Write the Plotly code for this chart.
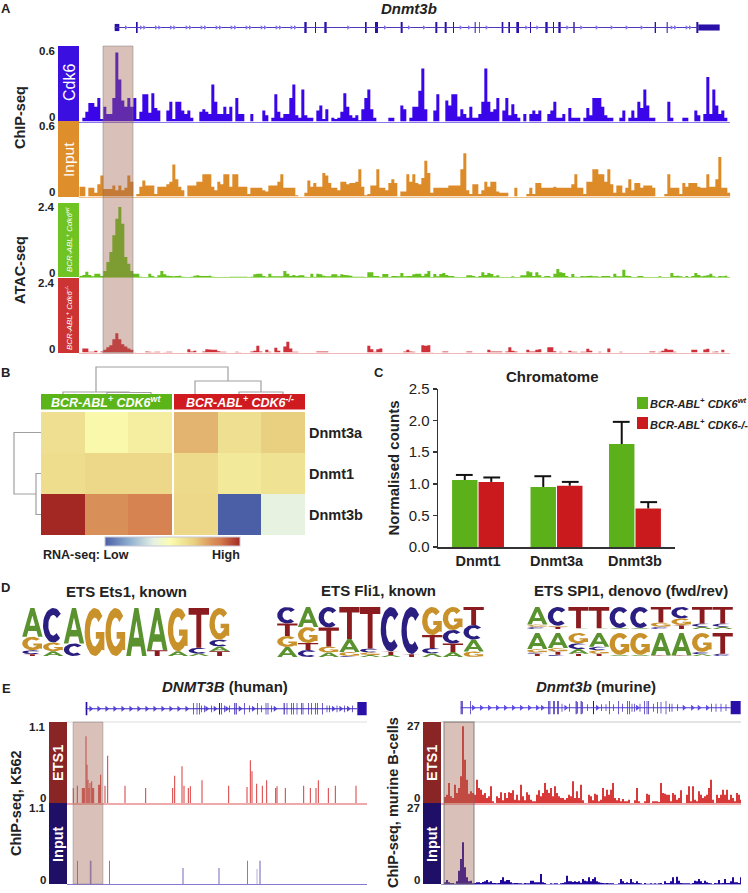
import math
import numpy as np
import plotly.graph_objects as go

W, H = 748, 893
FONT = "Liberation Sans"
INK = "#222222"

# ---------- Panel A: track signals (consecutive genome bins) ----------
cdk6_signal = [3,8,15,15,12,19,2,12,6,6,19,56,34,17,12,19,12,19,2,8,22,22,7,23,11,9,0,0,9,16,2,16,16,9,6,9,3,0,0,8,10,8,6,30,16,6,6,12,6,12,0,19,6,6,0,0,6,0,0,0,9,5,0,3,22,8,3,6,6,19,30,5,3,26,5,3,3,0,9,13,2,10,0,3,2,3,8,23,12,5,3,5,1,10,19,26,10,3,
0,0,0,0,3,3,0,0,13,10,0,3,12,12,25,43,10,0,0,9,22,0,0,17,13,22,22,4,10,6,3,12,3,3,6,16,43,16,8,10,19,0,9,19,5,14,6,3,0,6,0,6,9,6,9,0,0,6,9,16,3,3,6,0,11,3,3,3,0,3,11,5,19,19,19,12,5,3,3,0,0,3,9,0,3,9,3,16,11,26,13,3,3,0,0,0,0,16,3,0,0,0,3,3,0,0,9,5,0,6,36,6,26,13,6,9,3]
input_signal = [8,8,0,7,7,3,10,17,6,6,6,9,5,9,5,7,17,12,0,2,8,13,9,9,9,2,8,8,8,10,12,26,14,8,5,0,9,9,9,12,12,18,18,18,8,5,12,10,18,18,8,18,18,8,8,8,2,7,7,7,7,5,4,9,9,9,12,18,7,7,7,7,1,0,0,3,13,8,11,8,8,19,17,11,7,7,5,12,12,10,11,11,12,22,8,1,2,9,9,
22,7,7,5,11,14,11,0,4,4,18,12,18,11,10,15,29,19,3,7,7,7,7,7,9,9,9,9,22,35,5,2,10,10,2,5,12,8,12,12,4,3,3,3,0,0,7,0,0,0,2,7,2,11,11,7,7,7,7,8,7,7,7,7,7,10,18,7,7,2,12,12,22,22,18,18,12,22,10,3,9,9,3,7,14,5,11,11,7,9,9,9,7,0,0,0,2,18,7,7,7,2,11,8,11,11,11,8,7,7,18,8,8,14,32,7,7,3]
atac_wt_signal = [3,6,16,6,2,10,10,3,18,45,75,125,175,210,160,60,40,18,10,10,1,0,0,10,3,0,5,18,8,4,3,2,3,4,1,0,0,1,4,5,3,3,3,4,1,0,0,0,0,0,1,1,1,1,1,1,0,1,8,10,10,3,1,10,2,2,2,2,18,10,3,6,3,5,5,1,0,10,1,10,8,4,2,2,8,8,2,8,6,5,4,1,1,1,1,0,14,14,3,
3,0,9,9,0,3,3,2,12,2,3,3,8,10,10,3,10,18,0,9,2,9,12,6,3,3,0,0,0,0,5,5,3,0,3,14,6,12,9,2,5,0,0,0,0,2,0,0,5,5,17,14,3,14,5,0,3,3,0,10,24,14,12,3,0,9,1,0,3,2,3,4,2,2,1,3,3,3,0,10,2,2,22,4,3,0,0,3,3,0,0,0,0,0,2,0,0,0,12,3,4,2,0,3,0,3,12,6,2,4,5,10,2,0,3,2,4]
atac_ko_signal = [0,12,12,2,2,5,0,3,8,16,22,40,58,40,25,18,12,8,1,0,0,0,3,2,1,2,2,0,1,2,2,0,0,0,0,0,10,3,5,0,0,3,10,9,8,8,4,2,2,0,0,0,2,1,0,0,0,3,5,20,3,0,8,2,0,14,5,0,18,32,12,2,2,0,0,0,0,0,0,3,3,3,3,0,0,0,0,0,0,0,0,0,0,0,0,0,20,10,2,
10,12,0,0,0,0,0,0,0,3,8,3,2,0,0,22,20,22,1,0,0,0,3,3,0,0,0,0,0,0,3,3,0,0,0,0,0,8,3,3,3,3,0,3,16,5,3,0,0,0,8,3,3,8,10,0,1,16,16,4,0,2,0,0,5,2,2,0,2,2,11,5,0,0,2,0,0,12,0,0,0,2,0,0,0,0,0,0,0,0,0,3,3,0,2,5,11,8,8,2,0,0,0,0,0,8,8,0,0,9,11,0,2,3,0,8]

# Gene model Dnmt3b (mouse, panel A)
a_exon_start = [344,408,913,945,973,1095,1125,1202,1306,1334,1359,1424,1437,1505,1525,1549,1590,1636,1659,1675,1720,1964,2000,2089,2095]
a_exon_end   = [358,413,920,948,980,1100,1134,1208,1312,1340,1362,1427,1439,1510,1530,1557,1593,1643,1662,1682,1724,1968,2003,2095,2159]
a_exon_half  = [.65,1,1,1,1,1,1,1,1,1,1,1,1,1,1,1,1,1,1,1,1,1,1,1,.55]
a_arrows = [378,423,433,468,478,513,523,560,570,605,615,650,660,695,705,740,750,785,795,830,840,875,885,1045,1155,1227,1272,1382,1407,1460,1579,1612,1702,1744,1790,1835,1880,1925,2015,2025,2060,2070]

# ---------- Panel B ----------
hm_rows = ["Dnmt3a", "Dnmt1", "Dnmt3b"]
hm_cols_wt = ["wt1", "wt2", "wt3"]
hm_cols_ko = ["ko1", "ko2", "ko3"]
hm_wt = [[.60,.50,.54],[.61,.63,.63],[1.0,.80,.84]]
hm_ko = [[.72,.60,.66],[.62,.56,.59],[.63,0.0,.37]]
hm_scale = [[0,"#4a5fa5"],[.18,"#8fafd0"],[.36,"#e6f1e4"],[.48,"#fbfdb0"],[.66,"#e9d080"],[.8,"#d98f58"],[.85,"#d67f4f"],[1,"#a32824"]]

# merges: left position, right position, left height, right height, top height
dendro_top = [(1.5,2.5,0,0,1.5),(.5,2.0,0,1.5,2),(4.5,5.5,0,0,2),(3.5,5.0,0,2,13),(1.25,4.25,2,13,27)]
dendro_left = [(1.5,2.5,0,0,5),(.5,2.0,0,5,27)]

# ---------- Panel C ----------
chrom_genes = ["Dnmt1", "Dnmt3a", "Dnmt3b"]
chrom_wt = [1.06, .95, 1.63]
chrom_ko = [1.03, .97, .61]
chrom_wt_err = [.08, .17, .35]
chrom_ko_err = [.07, .06, .10]

# ---------- Panel D: logos, each position stacked bottom to top ----------
logo_ets1 = [
 [("T",.04),("C",.08),("G",.28),("A",.60)], [("A",.10),("G",.18),("C",.72)], [("C",.26),("A",.74)],
 [("G",1.0)], [("G",1.0)], [("A",1.0)], [("T",.12),("A",.88)], [("A",.10),("G",.90)],
 [("A",.05),("C",.12),("T",.83)], [("T",.10),("A",.10),("C",.14),("G",.66)]]
logo_fli1 = [
 [("A",.2),("G",.22),("T",.25),("C",.33)], [("C",.14),("T",.14),("G",.32),("A",.40)], [("A",.09),("G",.12),("T",.38),("C",.41)],
 [("C",.02),("G",.08),("A",.26),("T",.64)], [("A",.04),("G",.05),("C",.08),("T",.83)], [("A",.04),("T",.07),("C",.89)],
 [("T",.06),("C",.94)], [("A",.07),("C",.11),("T",.26),("G",.56)], [("A",.10),("T",.17),("C",.27),("G",.46)], [("G",.11),("A",.24),("C",.29),("T",.36)]]
logo_spi1_fwd = [
 [("C",.1),("G",.1),("A",.8)], [("T",.1),("G",.05),("C",.85)], [("A",.03),("T",.97)], [("A",.03),("T",.97)],
 [("A",.05),("C",.95)], [("A",.05),("C",.95)], [("C",.1),("G",.2),("T",.7)], [("T",.18),("G",.3),("C",.52)],
 [("A",.1),("C",.15),("T",.75)], [("A",.1),("C",.15),("T",.75)]]
logo_spi1_rev = [
 [("T",.1),("C",.05),("G",.15),("A",.7)], [("C",.05),("T",.15),("G",.15),("A",.65)], [("T",.1),("A",.2),("C",.25),("G",.45)],
 [("T",.1),("G",.15),("C",.15),("A",.6)], [("A",.05),("G",.95)], [("A",.05),("G",.95)], [("T",.02),("A",.98)], [("T",.02),("A",.98)],
 [("A",.08),("C",.1),("G",.82)], [("C",.1),("T",.9)]]
logo_colors = {"A":"#5a9230","C":"#2a1f80","G":"#c8912a","T":"#8a1c20"}

# ---------- Panel E ----------
human_ets1_pos = [220,232,247,250,253,258,261,264,267,270,275,278,281,296,299,302,315,323,375,437,518,524,546,552,565,571,606,686,741,751,756,770,787,800,827,831,856,911,931,948,955,985,1006,1068]
human_ets1_val = [45,52,45,45,45,200,115,70,45,60,65,45,45,55,55,85,52,142,52,45,45,82,110,52,45,50,68,52,48,128,95,58,52,68,45,50,45,52,45,45,68,45,52,52]
human_input_pos = [232,272,328,549,657,742,771,780]
human_input_val = [70,70,70,48,48,70,45,70]
human_input_wid = [2,5,2,5,5,2,3,4]
human_input_alpha = [1,.6,1,.45,.45,1,.4,.6]
human_exon_start = [257,580,590,597,603,612,633,657,663,672,688,703,708,733,748,772,783,797,803,813,851,860,873,880,890,903,908,925,933,945,952,967,980,987,1010,1033,1057,1072]
human_exon_end   = [262,582,592,599,605,614,635,660,665,674,690,706,710,735,750,774,785,799,805,815,854,862,875,882,892,905,910,927,935,947,954,969,982,989,1012,1035,1059,1100]
human_exon_half  = [1,.85,.85,.85,.5,.5,.5,.85,.85,.5,.5,.85,.85,.85,.5,.85,.5,.85,.85,.5,.85,.85,.85,.85,.85,.85,.85,.85,.85,.85,.85,.85,.5,.5,.5,.5,.5,1]
human_arrows = [272,296,320,344,368,392,416,440,464,488,512,536,560,620,645,680,720,760,825,1000,1022,1045]

murine_ets1_signal = [18,25,60,20,15,55,30,45,80,230,130,70,28,35,30,25,70,45,40,25,30,15,20,50,5,0,20,15,32,8,30,15,32,30,38,10,25,8,55,20,8,32,25,10,5,5,25,38,20,30,60,40,30,45,20,50,30,20,15,15,10,15,25,20,65,15,35,15,55,8,0,0,25,20,8,28,25,5,10,45,20,40,25,40,60,15,8,15,5,12,5,5,10,0,0,8,45,5,0,0,5,28,25,0,5,5,5,3,60,30,28,25,25,5,30,25,10,15,38,0,0,25,50,5,50,10,5,35,25,15,20,25,45,70,10,0,25,15,25,40,25,40,10,25,15,5,30,25,10]
murine_input_signal = [5,12,5,3,3,0,8,40,75,125,50,20,8,10,2,3,5,5,3,6,8,12,5,8,3,3,2,3,12,20,8,12,12,5,2,3,3,2,2,1,3,2,2,10,10,5,5,5,30,5,3,0,0,2,1,2,2,0,2,3,5,25,8,8,6,8,6,8,4,15,10,8,20,8,15,20,8,5,4,3,2,3,2,2,2,0,0,2,15,8,3,5,3,15,5,3,8,3,2,0,3,1,1,2,1,2,1,2,3,0,8,3,3,8,20,2,22,10,3,2,2,2,2,1,3,10,8,15,8,3,10,5,3,2,0,3,2,12,2,3,15,3,3,8,20,5,5,3,20]
murine_exon_start = [260,265,288,523,527,537,541,550,553,563,585,605,610,620,625,640,657,682,695,706,718,733,745,760,765,773,780,797,810,818,823,838,850,860,875,885,893,910,1012,1025,1040,1055,1070]
murine_exon_end   = [263,267,290,526,529,539,543,552,555,565,587,608,612,623,627,642,660,684,697,708,720,735,747,762,767,775,782,799,812,820,825,840,852,862,877,887,895,912,1014,1027,1042,1057,1100]
murine_exon_half  = [1,1,1,1,1,1,1,1,1,.6,.6,1,.85,1,.85,.5,1,.5,.5,1,.5,1,.6,1,1,.6,.6,.6,1,1,1,.6,.85,.85,1,.6,.6,.5,.6,.6,.6,.5,1]
murine_arrows = [298,322,346,370,394,418,442,466,490,505,575,670,790,930,955,975,1000]

# ---------- assembly ----------
fig = go.Figure()
layout_axes = {}
shapes, notes = [], []
n_ax = 0

def panel(x0, y0, x1, y1, xr, yr, xextra=None, yextra=None):
    """Create an axis pair whose plot area sits at the given pixel box."""
    global n_ax
    n_ax += 1
    sfx = "" if n_ax == 1 else str(n_ax)
    xa = dict(domain=[x0/W, x1/W], range=xr, anchor=f"y{sfx}", showgrid=False, zeroline=False,
              showticklabels=False, ticks="", fixedrange=True, showline=False)
    ya = dict(domain=[1-y1/H, 1-y0/H], range=yr, anchor=f"x{sfx}", showgrid=False, zeroline=False,
              showticklabels=False, ticks="", fixedrange=True, showline=False)
    xa.update(xextra or {}); ya.update(yextra or {})
    layout_axes[f"xaxis{sfx}"] = xa
    layout_axes[f"yaxis{sfx}"] = ya
    return f"x{sfx}", f"y{sfx}"

def box(x0, y0, x1, y1, color, line=None, above=False, lw=0):
    shapes.append(dict(type="rect", xref="paper", yref="paper", x0=x0/W, x1=x1/W, y0=1-y0/H, y1=1-y1/H,
                       fillcolor=color, line=dict(color=line or color, width=lw), layer="above" if above else "below"))

def rule(x0, y0, x1, y1, color, width):
    shapes.append(dict(type="line", xref="paper", yref="paper", x0=x0/W, x1=x1/W, y0=1-y0/H, y1=1-y1/H,
                       line=dict(color=color, width=width), layer="below"))

def note(x, y, text, size=12, color=INK, xanchor="center", angle=0):
    notes.append(dict(xref="paper", yref="paper", x=x/W, y=1-y/H, text=text, showarrow=False, xanchor=xanchor,
                      yanchor="middle", textangle=angle, font=dict(family=FONT, size=size, color=color),
                      borderpad=0, borderwidth=0))

def track(x0, x1, base, height, signal, scale, ymax, color, basecolor, start, nbins, basew=1):
    xa, ya = panel(x0, base-height, x1, base, [0, nbins], [0, ymax],
                   xextra=dict(showline=True, linecolor=basecolor, linewidth=basew))
    vals = [v*scale for v in signal]
    xs = [start+i for i in range(len(vals))]
    xs = xs+[xs[-1]+1]; vals = vals+[vals[-1]]
    fig.add_trace(go.Scatter(x=xs, y=vals, mode="lines", fill="tozeroy", fillcolor=color, xaxis=xa, yaxis=ya,
                             line=dict(color=color, width=0, shape="hv"), showlegend=False, hoverinfo="skip"))

def gene(x0, x1, y0, y1, gmax, starts, ends, halves, arrows, line_end, line_col, exon_col, arrow_col, asize=4):
    xa, ya = panel(x0, y0, x1, y1, [0, gmax], [-1, 1])
    fig.add_trace(go.Scatter(x=[starts[0], line_end], y=[0, 0], mode="lines", line=dict(color=line_col, width=1.2),
                             xaxis=xa, yaxis=ya, showlegend=False, hoverinfo="skip"))
    fig.add_trace(go.Scatter(x=arrows, y=[0]*len(arrows), mode="markers", marker=dict(symbol="triangle-right", size=asize, color=arrow_col),
                             xaxis=xa, yaxis=ya, showlegend=False, hoverinfo="skip"))
    fig.add_trace(go.Bar(x=[(a+b)/2 for a, b in zip(starts, ends)], y=[2*h for h in halves], base=[-h for h in halves],
                         width=[b-a for a, b in zip(starts, ends)], marker=dict(color=exon_col, line=dict(width=0)),
                         xaxis=xa, yaxis=ya, showlegend=False, hoverinfo="skip"))

def glyph(letter):
    """Unit-box outlines of the logo letters."""
    if letter == "A":
        return [[(0,0),(.22,0),(.6,1),(.4,1)], [(.78,0),(1,0),(.6,1),(.4,1)], [(.2,.2),(.8,.2),(.74,.38),(.26,.38)]]
    if letter == "T":
        return [[(.38,0),(.62,0),(.62,.83),(1,.83),(1,1),(0,1),(0,.83),(.38,.83)]]
    rx, ry = .24, .30
    def ell(a, r1, r2):
        t = math.radians(a)
        return (.5+r1*math.cos(t), .5+r2*math.sin(t))
    if letter == "C":
        ang = list(range(42, 320, 10))
        outer = [ell(a, .5, .5) for a in ang]
        inner = [ell(a, rx, ry) for a in reversed(ang)]
        return [outer+inner]
    ang = list(range(42, 316, 10))
    outer = [ell(a, .5, .5) for a in ang]
    inner = [ell(a, rx, ry) for a in reversed(ang)]
    return [outer+[(.97,.12),(.97,.5),(.55,.5),(.55,.36),(.74,.36)]+inner]

def logo(x0, y0, x1, y1, matrix):
    xa, ya = panel(x0, y0, x1, y1, [0, len(matrix)], [0, 1])
    polys = {k: ([], []) for k in logo_colors}
    for i, stack in enumerate(matrix):
        b = 0
        for letter, h in stack:
            for poly in glyph(letter):
                for px, py in poly+[poly[0]]:
                    polys[letter][0].append(i+.01+.98*px)
                    polys[letter][1].append(b+h*py)
                polys[letter][0].append(None); polys[letter][1].append(None)
            b += h
    for k, (xs, ys) in polys.items():
        fig.add_trace(go.Scatter(x=xs, y=ys, mode="lines", fill="toself", fillcolor=logo_colors[k], xaxis=xa, yaxis=ya,
                                 line=dict(width=0, color=logo_colors[k]), showlegend=False, hoverinfo="skip"))

def dendro(xa, ya, merges, horizontal=False):
    xs, ys = [], []
    for l, r, hl, hr, t in merges:
        a, b = [l, l, r, r, None], [hl, t, t, hr, None]
        xs += a; ys += b
    if horizontal:
        xs, ys = ys, xs
    fig.add_trace(go.Scatter(x=xs, y=ys, mode="lines", line=dict(color="#a0a0a0", width=1.2), xaxis=xa, yaxis=ya,
                             showlegend=False, hoverinfo="skip"))

# Panel A
note(6, 8, "<b>A</b>", 13)
note(409, 9, "<b><i>Dnmt3b</i></b>", 15)
gene(0, W, 22, 33, 2244, a_exon_start, a_exon_end, a_exon_half, a_arrows, 2095, "#4a38b8", "#2a0fa8", "#7d6fe6")
box(58, 46, 79, 121, "#3a0fe0")
box(58, 121, 79, 197, "#de8e2a")
box(58, 203, 79, 277, "#6fc323")
box(58, 278, 79, 353, "#cc3333")
AX0 = 79.33
track(AX0, AX0+3*217, 121.5, 74, cdk6_signal, .01, .6, "#3a05e8", "#8a78ea", 1, 217)
track(AX0, AX0+3*217, 196.5, 74, input_signal, .01, .6, "#dd8b28", "#edc08a", 0, 217)
track(AX0, AX0+3*217, 277, 74, atac_wt_signal, 2.4/222, 2.4, "#66c11e", "#a8de78", 0, 217)
track(AX0, AX0+3*217, 352.5, 74, atac_ko_signal, 2.4/222, 2.4, "#d0303a", "#f2b8b8", 0, 217)
box(103, 46, 133, 353, "rgba(160,100,80,0.40)", "rgba(110,110,110,0.45)", above=True, lw=1)
note(69, 83, "Cdk6", 16, "white", angle=-90)
note(69, 160, "Input", 15.5, "white", angle=-90)
note(69, 240, "<i>BCR-ABL<sup>+</sup> Cdk6<sup>wt</sup></i>", 8, "white", angle=-90)
note(69, 318, "<i>BCR-ABL<sup>+</sup> Cdk6<sup>-/-</sup></i>", 8, "white", angle=-90)
for y, t in [(51,"0.6"),(117,"0"),(126,"0.6"),(192,"0"),(207,"2.4"),(273,"0"),(283,"2.4"),(349,"0")]:
    note(55, y, f"<b>{t}</b>", 11.5, xanchor="right")
note(20, 118, "<b>ChIP-seq</b>", 14.5, angle=-90)
note(20, 270, "<b>ATAC-seq</b>", 14.5, angle=-90)

# Panel B
note(5, 373, "<b>B</b>", 13)
box(41, 394, 172, 409.5, "#5cb518")
box(174, 394, 305, 409.5, "#cf1a20")
note(106.5, 402, "<b><i>BCR-ABL<sup>+</sup> CDK6<sup>wt</sup></i></b>", 12.5, "white")
note(239.5, 402, "<b><i>BCR-ABL<sup>+</sup> CDK6<sup>-/-</sup></i></b>", 12.5, "white")
xa, ya = panel(41, 412, 172, 535, [-.5, 2.5], [2.5, -.5], yextra=dict(type="category", categoryorder="array", categoryarray=hm_rows))
fig.add_trace(go.Heatmap(z=hm_wt, x=hm_cols_wt, y=hm_rows, coloraxis="coloraxis", xaxis=xa, yaxis=ya, hoverinfo="skip"))
layout_axes[xa.replace("x", "xaxis")]["type"] = "category"
xa, ya = panel(174, 412, 305, 535, [-.5, 2.5], [2.5, -.5],
               yextra=dict(type="category", categoryorder="array", categoryarray=hm_rows, side="right", showticklabels=True,
                           tickmode="array", tickvals=hm_rows, ticktext=[f"<b>{r}</b>" for r in hm_rows], ticklen=0,
                           tickfont=dict(family=FONT, size=14.5, color=INK), ticklabelstandoff=3))
fig.add_trace(go.Heatmap(z=hm_ko, x=hm_cols_ko, y=hm_rows, coloraxis="coloraxis", xaxis=xa, yaxis=ya, hoverinfo="skip"))
layout_axes[xa.replace("x", "xaxis")]["type"] = "category"
xa, ya = panel(41, 365, 305, 394, [0, 6], [0, 29])
dendro(xa, ya, dendro_top)
xa, ya = panel(12, 412, 41, 535, [29, 0], [3, 0])
dendro(xa, ya, dendro_left, horizontal=True)
note(43, 555, "<b>RNA-seq: Low</b>", 12.5, xanchor="left")
note(240, 555, "<b>High</b>", 12.5, xanchor="right")

# Panel C
note(379, 373, "<b>C</b>", 13)
note(552, 376, "<b>Chromatome</b>", 15)
xa, ya = panel(438, 389, 675, 547, [-.51, 2.51], [0, 2.5],
               xextra=dict(showline=True, linecolor="#333333", linewidth=1.5, showticklabels=True, tickmode="array",
                           tickvals=[0, 1, 2], ticktext=[f"<b>{g}</b>" for g in chrom_genes], ticklen=0,
                           tickfont=dict(family=FONT, size=14.5, color=INK)),
               yextra=dict(showline=True, linecolor="#333333", linewidth=1.5, showticklabels=True, tick0=0, dtick=.5,
                           tickformat=".1f", ticks="outside", ticklen=4, tickwidth=1.5, tickcolor="#333333",
                           tickfont=dict(family=FONT, size=15, color=INK),
                           title=dict(text="<b>Normalised counts</b>", font=dict(family=FONT, size=15, color=INK), standoff=5)))
for vals, errs, col, grp in [(chrom_wt, chrom_wt_err, "#5cb11b", "wt"), (chrom_ko, chrom_ko_err, "#cb1a1d", "ko")]:
    fig.add_trace(go.Bar(x=[0, 1, 2], y=vals, marker=dict(color=col, line=dict(width=0)), offsetgroup=grp, name=grp,
                         error_y=dict(type="data", symmetric=False, array=errs, arrayminus=[0, 0, 0], width=0, thickness=2, color="#111111"),
                         xaxis=xa, yaxis=ya, showlegend=False, hoverinfo="skip"))
for vals, errs, off in [(chrom_wt, chrom_wt_err, -.175), (chrom_ko, chrom_ko_err, .175)]:
    fig.add_trace(go.Scatter(x=[i+off for i in range(3)], y=[v+e for v, e in zip(vals, errs)], mode="markers",
                             marker=dict(symbol="line-ew", size=12, line=dict(color="#111111", width=2)),
                             xaxis=xa, yaxis=ya, showlegend=False, hoverinfo="skip"))
box(637, 397, 648, 409, "#5cb11b")
box(637, 417, 648, 429, "#cb1a1d")
note(650, 403, "<b><i>BCR-ABL<sup>+</sup> CDK6<sup>wt</sup></i></b>", 11, xanchor="left")
note(650, 424, "<b><i>BCR-ABL<sup>+</sup> CDK6-/-</i></b>", 11, xanchor="left")

# Panel D
note(5, 587, "<b>D</b>", 13)
note(126, 591, "<b>ETS Ets1, known</b>", 15)
note(378, 590, "<b>ETS Fli1, known</b>", 15)
note(631, 590, "<b>ETS SPI1, denovo (fwd/rev)</b>", 15)
logo(22, 608, 230, 656, logo_ets1)
logo(277, 607, 484, 657, logo_fli1)
logo(527, 607, 733, 629, logo_spi1_fwd)
logo(527, 633, 733, 656, logo_spi1_rev)

# Panel E human
note(6, 688, "<b>E</b>", 13)
note(225, 686, "<b><i>DNMT3B</i> (human)</b>", 15)
gene(0, 374, 702, 715.5, 1122, human_exon_start, human_exon_end, human_exon_half, human_arrows, 1072, "#3a24c8", "#2a10a8", "#5040d0", 5)
rule(67, 722, 367, 722, "#dddddd", 1)
box(49, 722, 67, 803, "#8a2525")
box(49, 803, 67, 884, "#1f0f66")
note(58, 763, "<b>ETS1</b>", 14.5, "white", angle=-90)
note(58, 844, "<b>Input</b>", 14.5, "white", angle=-90)
xa, ya = panel(67, 722, 367, 803, [201, 1101], [0, 1.1], xextra=dict(showline=True, linecolor="#eeaaaa", linewidth=1.5))
fig.add_trace(go.Bar(x=human_ets1_pos, y=[v*1.1/243 for v in human_ets1_val], width=3, marker=dict(color="#d83a3a", line=dict(width=0)),
                     xaxis=xa, yaxis=ya, showlegend=False, hoverinfo="skip"))
xa, ya = panel(67, 803, 367, 884, [201, 1101], [0, 1.1], xextra=dict(showline=True, linecolor="#8a78d0", linewidth=1.2))
fig.add_trace(go.Bar(x=human_input_pos, y=[v*1.1/243 for v in human_input_val], width=human_input_wid,
                     marker=dict(color="#4a36a8", opacity=human_input_alpha, line=dict(width=0)),
                     xaxis=xa, yaxis=ya, showlegend=False, hoverinfo="skip"))
box(73, 722, 103, 884, "rgba(160,100,80,0.40)", "rgba(110,110,110,0.35)", above=True, lw=1)
for y, t in [(727,"1.1"),(798,"0"),(808,"1.1"),(880,"0")]:
    note(46, y, f"<b>{t}</b>", 11.5, xanchor="right")
note(16, 803, "<b>ChIP-seq, K562</b>", 14.5, angle=-90)

# Panel E murine
note(596, 686, "<b><i>Dnmt3b</i> (murine)</b>", 15)
gene(374, W, 701, 714.5, 1122, murine_exon_start, murine_exon_end, murine_exon_half, murine_arrows, 1070, "#4a34d8", "#2a10a8", "#5a4ae0", 5)
rule(441, 722, 741, 722, "#e4e4e4", 2)
box(423, 722, 441, 803, "#8a2525")
box(423, 803, 441, 884, "#1f0f66")
note(432, 763, "<b>ETS1</b>", 14.5, "white", angle=-90)
note(432, 844, "<b>Input</b>", 14.5, "white", angle=-90)
track(441, 741, 803, 81, murine_ets1_signal, 27/243, 27, "#d83a3a", "#eeaaaa", 1.5, 150, basew=1.5)
track(441, 741, 884, 81, murine_input_signal, 27/243, 27, "#20089c", "#a89ce0", 1.5, 150, basew=1.2)
box(444, 722, 474, 884, "rgba(160,100,80,0.40)", "rgba(110,110,110,0.55)", above=True, lw=1.5)
for y, t in [(726,"27"),(798,"0"),(808,"27"),(880,"0")]:
    note(420, y, f"<b>{t}</b>", 11.5, xanchor="right")
note(393, 803, "<b>ChIP-seq, murine B-cells</b>", 14.5, angle=-90)

fig.update_layout(
    width=W, height=H, margin=dict(l=0, r=0, t=0, b=0, autoexpand=False), paper_bgcolor="white", plot_bgcolor="rgba(0,0,0,0)",
    font=dict(family=FONT, color=INK), showlegend=False, bargap=.325, bargroupgap=.04, barmode="group",
    shapes=shapes, annotations=notes,
    coloraxis=dict(colorscale=hm_scale, cmin=0, cmax=1,
                   colorbar=dict(orientation="h", x=105/W, xanchor="left", y=1-537/H, yanchor="top", len=135, lenmode="pixels",
                                 thickness=9, thicknessmode="pixels", xpad=0, ypad=0, showticklabels=False, ticks="",
                                 outlinewidth=1, outlinecolor="#c8c8d8")),
    **layout_axes)

fig.write_html("out.html", config=dict(displayModeBar=False, staticPlot=True),
               post_script="document.body.style.margin='0';document.documentElement.style.overflow='hidden';")
